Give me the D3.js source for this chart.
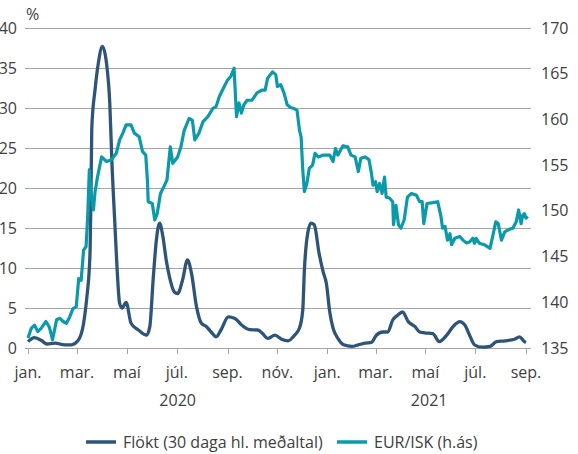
<!DOCTYPE html>
<html>
<head>
<meta charset="utf-8">
<script src="https://cdn.jsdelivr.net/npm/d3@7"></script>
<style>
  body { margin: 0; background: #fff; }
  svg text { font-family: "Open Sans", sans-serif; font-size: 16px; fill: #404040; }
</style>
</head>
<body>
<svg id="chart" width="578" height="454"></svg>
<script>
// Flökt (30 daga hl. meðaltal), vinstri ás (%)
const floktDates = ["2020-01-01","2020-01-09","2020-01-18","2020-01-24","2020-02-03","2020-02-15","2020-02-23","2020-03-02",
  "2020-03-09","2020-03-13","2020-03-16","2020-03-17","2020-03-18","2020-03-19","2020-03-23","2020-03-27","2020-04-01",
  "2020-04-06","2020-04-10","2020-04-13","2020-04-16","2020-04-19","2020-04-22","2020-04-25","2020-04-30","2020-05-06",
  "2020-05-15","2020-05-25","2020-05-29","2020-06-02","2020-06-06","2020-06-10","2020-06-14","2020-06-18","2020-06-22",
  "2020-06-28","2020-07-02","2020-07-08","2020-07-14","2020-07-19","2020-07-25","2020-07-31","2020-08-06","2020-08-12",
  "2020-08-18","2020-08-24","2020-09-02","2020-09-10","2020-09-18","2020-09-28","2020-10-08","2020-10-14","2020-10-20",
  "2020-10-29","2020-11-06","2020-11-14","2020-11-22","2020-11-28","2020-12-02","2020-12-04","2020-12-08","2020-12-12",
  "2020-12-16","2020-12-22","2020-12-27","2020-12-31","2021-01-04","2021-01-08","2021-01-14","2021-01-21","2021-01-31",
  "2021-02-08","2021-02-16","2021-02-24","2021-03-02","2021-03-10","2021-03-16","2021-03-22","2021-03-28","2021-04-03",
  "2021-04-10","2021-04-18","2021-04-24","2021-04-30","2021-05-10","2021-05-18","2021-05-27","2021-06-04","2021-06-12",
  "2021-06-18","2021-06-24","2021-06-30","2021-07-10","2021-07-19","2021-07-27","2021-08-06","2021-08-18","2021-08-24",
  "2021-08-30","2021-09-01"];
const floktValues = [0.8,1.3,0.9,0.5,0.6,0.4,0.4,0.9,
  3.1,6.4,10,12.5,19,27.5,32.3,35.6,37.7,
  35.6,30.6,22.2,16,9.8,5.6,5.0,5.7,3.1,
  2.25,1.6,2.7,8.5,13.5,15.6,13.9,11,8.9,
  7.0,6.8,8.5,11,9.3,5.2,3.1,2.7,2.0,
  1.4,2.25,3.9,3.7,2.9,2.3,2.25,1.8,1.2,
  1.6,1.1,0.9,1.6,2.5,4.75,9.75,14.3,15.6,
  15.4,11.8,9.5,8.0,4.5,2.5,1.2,0.4,0.2,
  0.4,0.6,0.7,1.6,2.0,2.0,3.5,4.1,4.5,
  3.3,2.7,2.0,1.9,1.8,0.8,1.6,2.7,3.3,
  2.9,1.6,0.4,0.1,0.2,0.8,0.9,1.1,1.4,
  0.8,0.7];

// EUR/ISK, hægri ás
const eurDates = ["2020-01-01","2020-01-05","2020-01-09","2020-01-13","2020-01-17","2020-01-23","2020-01-27","2020-01-31",
  "2020-02-05","2020-02-09","2020-02-13","2020-02-17","2020-02-21","2020-02-25","2020-02-29","2020-03-03","2020-03-06",
  "2020-03-09","2020-03-12","2020-03-14","2020-03-16","2020-03-18","2020-03-21","2020-03-23","2020-03-26","2020-03-31",
  "2020-04-06","2020-04-12","2020-04-18","2020-04-22","2020-04-26","2020-04-30","2020-05-06","2020-05-10","2020-05-16",
  "2020-05-20","2020-05-24","2020-05-26","2020-05-27","2020-06-01","2020-06-04","2020-06-07","2020-06-11","2020-06-15",
  "2020-06-19","2020-06-23","2020-06-26","2020-07-02","2020-07-06","2020-07-10","2020-07-16","2020-07-20","2020-07-23",
  "2020-07-28","2020-08-02","2020-08-08","2020-08-14","2020-08-18","2020-08-22","2020-08-28","2020-09-01","2020-09-05",
  "2020-09-09","2020-09-12","2020-09-15","2020-09-18","2020-09-21","2020-09-25","2020-10-01","2020-10-07","2020-10-13",
  "2020-10-17","2020-10-20","2020-10-26","2020-10-30","2020-11-01","2020-11-05","2020-11-09","2020-11-13","2020-11-17",
  "2020-11-21","2020-11-25","2020-11-28","2020-11-30","2020-12-02","2020-12-04","2020-12-07","2020-12-10","2020-12-14",
  "2020-12-17","2020-12-21","2020-12-27","2021-01-04","2021-01-08","2021-01-11","2021-01-14","2021-01-20","2021-01-26",
  "2021-01-30","2021-02-04","2021-02-08","2021-02-11","2021-02-16","2021-02-21","2021-02-24","2021-02-26","2021-03-01",
  "2021-03-03","2021-03-06","2021-03-09","2021-03-12","2021-03-14","2021-03-18","2021-03-22","2021-03-23","2021-03-26",
  "2021-03-29","2021-04-01","2021-04-05","2021-04-09","2021-04-14","2021-04-20","2021-04-24","2021-04-27","2021-04-29",
  "2021-05-03","2021-05-10","2021-05-16","2021-05-20","2021-05-22","2021-05-25","2021-05-28","2021-05-31","2021-06-02",
  "2021-06-06","2021-06-12","2021-06-16","2021-06-20","2021-06-24","2021-06-28","2021-06-30","2021-07-02","2021-07-06",
  "2021-07-12","2021-07-19","2021-07-23","2021-07-26","2021-07-29","2021-08-02","2021-08-06","2021-08-12","2021-08-16",
  "2021-08-20","2021-08-23","2021-08-26","2021-08-28","2021-08-30","2021-09-01","2021-09-03"];
const eurValues = [136.1,137.15,137.5,136.8,137.15,137.9,137.3,135.9,
  138.1,138.25,137.9,137.7,138.4,139.3,139.5,142.6,142.4,
  145.7,146.1,149.4,154.5,151.9,150.1,152.1,153.7,155.9,
  155.4,155.6,156.3,157.75,158.5,159.4,159.4,158.5,158.1,
  156.5,156.1,153.4,151.0,150.8,149.0,149.7,151.9,152.6,
  153.4,157.0,155.2,155.9,157.0,158.8,160.1,159.9,157.75,
  158.5,159.75,160.3,161.2,161.4,162.5,163.6,164.3,164.7,
  165.6,160.3,161.8,160.7,161.6,162.1,162.1,162.9,163.2,
  163.2,164.5,165.2,164.9,163.6,163.8,162.9,161.6,161.3,
  161.2,161.0,158.8,158.1,154.5,152.1,153.0,154.65,155.0,
  156.3,155.9,156.1,156.1,155.4,156.8,156.1,157.1,157.0,
  156.1,155.9,154.3,155.75,155.9,155.6,154.1,152.8,153.2,
  152.1,153.0,151.9,153.7,151.5,151.4,151.0,148.5,150.6,
  148.5,148.1,149.0,151.5,151.9,151.7,151.0,151.0,148.6,
  150.8,150.9,151.0,149.4,148.1,148.3,146.8,147.5,146.3,
  147.0,147.2,146.8,146.5,146.6,147.0,146.45,147.0,146.45,
  146.3,145.9,147.5,148.8,148.6,146.8,147.7,148.0,148.1,
  148.8,150.1,148.6,149.5,149.7,149.2,149.4];

const leftTicks = [0, 5, 10, 15, 20, 25, 30, 35, 40];
const rightTicks = [135, 140, 145, 150, 155, 160, 165, 170];
const monthLabels = ["jan.", "mar.", "maí", "júl.", "sep.", "nóv.", "jan.", "mar.", "maí", "júl.", "sep."];
const yearLabels = ["2020", "2021"];
const seriesNames = ["Flökt (30 daga hl. meðaltal)", "EUR/ISK (h.ás)"];
const colors = ["#2e5577", "#0b9aaa"];

const parse = d3.timeParse("%Y-%m-%d");
const flokt = floktDates.map((d, i) => ({date: parse(d), value: floktValues[i]}));
const eur = eurDates.map((d, i) => ({date: parse(d), value: eurValues[i]}));

const svg = d3.select("#chart");
const plotLeft = 25, plotRight = 531, plotTop = 28, plotBottom = 348;

const x = d3.scaleTime()
  .domain([new Date(2020, 0, 1), new Date(2021, 8, 1)])
  .range([28, 526]);
const yL = d3.scaleLinear().domain([0, 40]).range([plotBottom, plotTop]);
const yR = d3.scaleLinear().domain([135, 170]).range([plotBottom, plotTop]);

// gridlines
svg.append("g").selectAll("line")
  .data(leftTicks)
  .enter().append("line")
  .attr("x1", plotLeft).attr("x2", plotRight)
  .attr("y1", d => yL(d) + 0.5).attr("y2", d => yL(d) + 0.5)
  .attr("stroke", "#a6a6a6").attr("stroke-width", 1);

// x ticks every two months
const tickDates = d3.timeMonth.every(2).range(new Date(2020, 0, 1), new Date(2021, 8, 2));
svg.append("g").selectAll("line")
  .data(tickDates)
  .enter().append("line")
  .attr("x1", d => Math.round(x(d)) + 0.5).attr("x2", d => Math.round(x(d)) + 0.5)
  .attr("y1", plotBottom).attr("y2", plotBottom + 6)
  .attr("stroke", "#a6a6a6");

svg.append("g").selectAll("text")
  .data(tickDates)
  .enter().append("text")
  .attr("x", d => x(d))
  .attr("y", 378)
  .attr("text-anchor", "middle")
  .text((d, i) => monthLabels[i]);

// year labels centred on each year's span
const yearSpans = [[new Date(2020, 0, 1), new Date(2021, 0, 1)], [new Date(2021, 0, 1), x.invert(plotRight)]];
svg.append("g").selectAll("text")
  .data(yearLabels)
  .enter().append("text")
  .attr("x", (d, i) => (x(yearSpans[i][0]) + x(yearSpans[i][1])) / 2)
  .attr("y", 406)
  .attr("text-anchor", "middle")
  .text(d => d);

// left axis
const leftAxis = svg.append("g")
  .attr("transform", "translate(17,0)")
  .call(d3.axisLeft(yL).tickValues(leftTicks).tickSize(0).tickPadding(0));
leftAxis.select(".domain").remove();
leftAxis.selectAll("text").attr("fill", "#404040").style("font-size", "16px").style("font-family", "Open Sans");

svg.append("text").attr("x", 26).attr("y", 20).text("%");

// right axis
const rightAxis = svg.append("g")
  .attr("transform", "translate(541,0)")
  .call(d3.axisRight(yR).tickValues(rightTicks).tickSize(0).tickPadding(0));
rightAxis.select(".domain").remove();
rightAxis.selectAll("text").attr("fill", "#404040").style("font-size", "16px").style("font-family", "Open Sans");

// lines
const lineL = d3.line().x(d => x(d.date)).y(d => yL(d.value)).curve(d3.curveMonotoneX);
const lineR = d3.line().x(d => x(d.date)).y(d => yR(d.value));

svg.append("path").datum(flokt)
  .attr("d", lineL)
  .attr("fill", "none").attr("stroke", colors[0]).attr("stroke-width", 3.3)
  .attr("stroke-linejoin", "round");

svg.append("path").datum(eur)
  .attr("d", lineR)
  .attr("fill", "none").attr("stroke", colors[1]).attr("stroke-width", 3.2)
  .attr("stroke-linejoin", "round");

// legend
const legendPos = [{lx: 86, tx: 123}, {lx: 337, tx: 374}];
const legend = svg.append("g").selectAll("g")
  .data(seriesNames)
  .enter().append("g");
legend.append("line")
  .attr("x1", (d, i) => legendPos[i].lx).attr("x2", (d, i) => legendPos[i].lx + 30)
  .attr("y1", 442).attr("y2", 442)
  .attr("stroke", (d, i) => colors[i]).attr("stroke-width", 3.5);
legend.append("text")
  .attr("x", (d, i) => legendPos[i].tx)
  .attr("y", 448)
  .text(d => d);
</script>
</body>
</html>
